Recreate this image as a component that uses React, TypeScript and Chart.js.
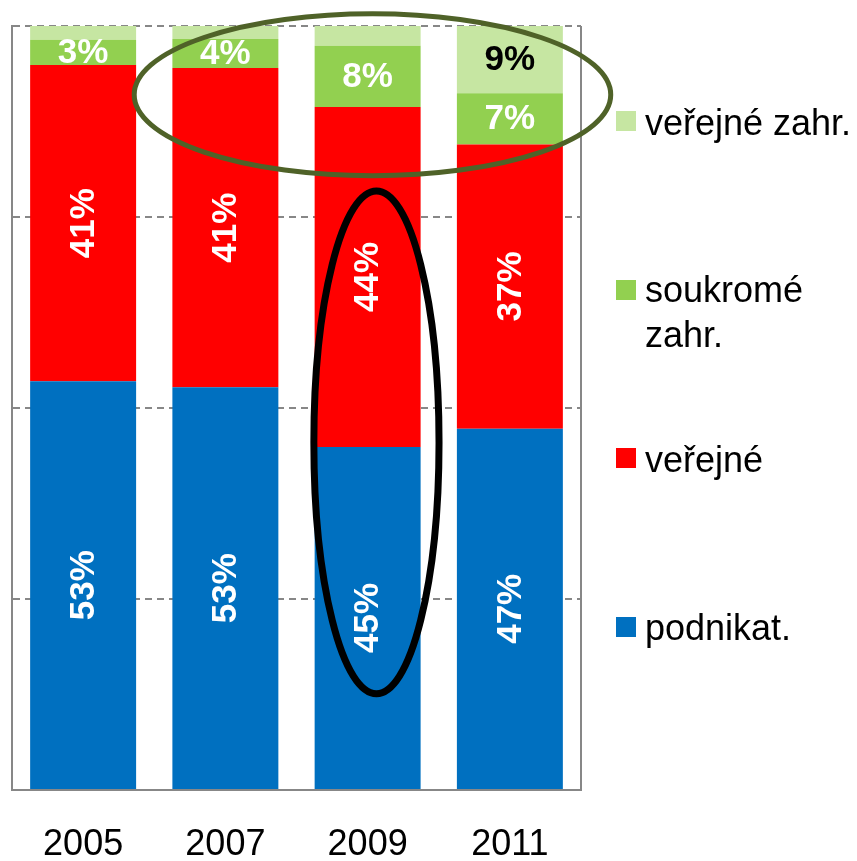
import React, { useEffect, useRef } from "react";
import { Chart, registerables } from "chart.js";

Chart.register(...registerables);

const categories = ["2005", "2007", "2009", "2011"];
const seriesNames = ["podnikat.", "veřejné", "soukromé zahr.", "veřejné zahr."];
const podnikat = [53.5, 52.7, 44.9, 47.3];
const verejne = [41.4, 41.8, 44.5, 37.2];
const soukromeZahr = [3.3, 3.8, 8.0, 6.7];
const verejneZahr = [1.8, 1.7, 2.6, 8.8];
const podnikatLabels = ["53%", "53%", "45%", "47%"];
const verejneLabels = ["41%", "41%", "44%", "37%"];
const soukromeZahrLabels = ["3%", "4%", "8%", "7%"];
const verejneZahrLabels = ["", "", "", "9%"];
const colors = ["#0070C0", "#FF0000", "#92D050", "#C6E6A2"];
const labelColors = ["#FFFFFF", "#FFFFFF", "#FFFFFF", "#000000"];
const rotatedLabel = [true, true, false, false];

// highlight ellipses anchored in data space: [categoryCenter, valueCenter, categoryRadius, valueRadius]
const ellipseOlive = [2.034, 91.0, 1.675, 10.6];
const ellipseBlack = [2.062, 45.5, 0.44, 32.9];

const FONT = "'Liberation Sans', Arial, sans-serif";
const GRID = "#878787";

const labelPlugin = {
  id: "segLabels",
  afterDatasetsDraw(chart: any) {
    const ctx = chart.ctx;
    const all = [podnikatLabels, verejneLabels, soukromeZahrLabels, verejneZahrLabels];
    ctx.save();
    ctx.font = `bold 35px ${FONT}`;
    ctx.textAlign = "center";
    ctx.textBaseline = "middle";
    chart.data.datasets.forEach((_: any, di: number) => {
      const meta = chart.getDatasetMeta(di);
      meta.data.forEach((bar: any, i: number) => {
        const txt = all[di][i];
        if (!txt) return;
        const cy = (bar.y + bar.base) / 2;
        ctx.fillStyle = labelColors[di];
        ctx.save();
        ctx.translate(bar.x, cy);
        if (rotatedLabel[di]) ctx.rotate(-Math.PI / 2);
        ctx.fillText(txt, 0, 1);
        ctx.restore();
      });
    });
    ctx.restore();
  },
};

const framePlugin = {
  id: "frameAndEllipses",
  afterDraw(chart: any) {
    const ctx = chart.ctx;
    const { chartArea } = chart;
    const xs = chart.scales.x;
    const ys = chart.scales.y;
    ctx.save();
    ctx.strokeStyle = GRID;
    ctx.lineWidth = 2;
    ctx.beginPath();
    ctx.moveTo(chartArea.right, chartArea.top);
    ctx.lineTo(chartArea.right, chartArea.bottom + 1);
    ctx.stroke();

    const drawEllipse = (e: number[], color: string, w: number) => {
      const cx = xs.getPixelForValue(e[0]);
      const rx = xs.getPixelForValue(e[0] + e[2]) - cx;
      const cy = ys.getPixelForValue(e[1]);
      const ry = cy - ys.getPixelForValue(e[1] + e[3]);
      ctx.strokeStyle = color;
      ctx.lineWidth = w;
      ctx.beginPath();
      ctx.ellipse(cx, cy, rx, ry, 0, 0, Math.PI * 2);
      ctx.stroke();
    };
    drawEllipse(ellipseOlive, "#4F6228", 5);
    drawEllipse(ellipseBlack, "#000000", 7);
    ctx.restore();
  },
};

const legendItems = [
  { name: seriesNames[3], color: colors[3], top: 100, marker: 111 },
  { name: seriesNames[2], color: colors[2], top: 267, marker: 280 },
  { name: seriesNames[1], color: colors[1], top: 437, marker: 448 },
  { name: seriesNames[0], color: colors[0], top: 605, marker: 617 },
];

export default function App() {
  const ref = useRef<HTMLCanvasElement>(null);
  useEffect(() => {
    if (!ref.current) return;
    const values = [podnikat, verejne, soukromeZahr, verejneZahr];
    const chart = new Chart(ref.current, {
      type: "bar",
      data: {
        labels: categories,
        datasets: values.map((v, i) => ({
          label: seriesNames[i],
          data: v,
          backgroundColor: colors[i],
          borderWidth: 0,
          categoryPercentage: 1,
          barPercentage: 0.745,
        })),
      },
      options: {
        animation: false,
        responsive: false,
        maintainAspectRatio: false,
        layout: { padding: { left: 12, top: 26, right: 276, bottom: 0 } },
        plugins: { legend: { display: false }, tooltip: { enabled: false } },
        scales: {
          x: {
            stacked: true,
            grid: { display: false, drawTicks: false },
            border: { display: true, color: GRID, width: 2 },
            ticks: { color: "#000", font: { family: FONT, size: 36 }, padding: 33 },
            afterFit: (s: any) => {
              s.height = 71;
            },
          },
          y: {
            stacked: true,
            min: 0,
            max: 100,
            grid: { color: GRID, lineWidth: 2, drawTicks: false },
            border: { display: true, color: GRID, width: 2, dash: [7, 5] },
            ticks: { display: false, stepSize: 25 },
            afterFit: (s: any) => {
              s.width = 0;
            },
          },
        },
      },
      plugins: [labelPlugin, framePlugin],
    } as any);
    return () => chart.destroy();
  }, []);

  return (
    <div style={{ position: "fixed", left: 0, top: 0, width: 857, height: 861, background: "#fff", overflow: "hidden" }}>
      <canvas ref={ref} width={857} height={861} style={{ position: "absolute", left: 0, top: 0, width: 857, height: 861 }} />
      {legendItems.map((it) => (
        <React.Fragment key={it.name}>
          <div style={{ position: "absolute", left: 616, top: it.marker, width: 20, height: 20, background: it.color }} />
          <div
            style={{
              position: "absolute",
              left: 645,
              top: it.top,
              width: 212,
              fontFamily: FONT,
              fontSize: 36,
              lineHeight: "45px",
              color: "#000",
              whiteSpace: "normal",
            }}
          >
            {it.name}
          </div>
        </React.Fragment>
      ))}
    </div>
  );
}
